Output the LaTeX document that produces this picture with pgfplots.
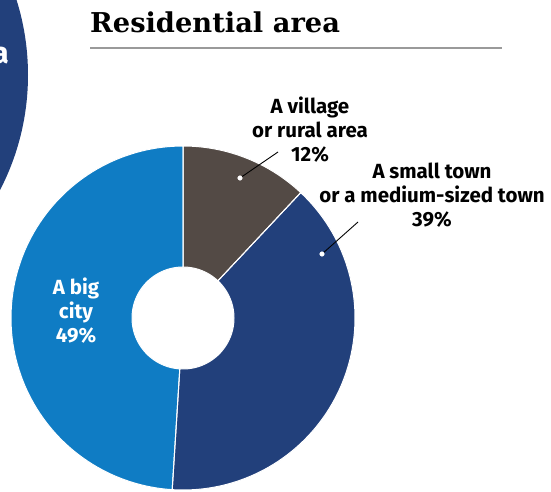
\documentclass[border=0pt]{standalone}
\usepackage{pgfplots}
\usepackage{pgfplotstable}
\pgfplotsset{compat=1.18}
\usepackage{fontspec}
\setmainfont{Fira Sans}
\newfontfamily\titlefont{DejaVu Serif}
\definecolor{cVillage}{HTML}{534A45}
\definecolor{cTown}{HTML}{22407B}
\definecolor{cCity}{HTML}{0F7CC4}
\definecolor{cRule}{HTML}{9A9A9A}
\tikzset{lbl/.style={font=\bfseries\fontsize{20.5}{24}\selectfont, align=center, inner sep=0pt}}

\pgfplotstableread{
label value
village 12
town 39
city 49
}\piedata

% sector: style, start angle, end angle, path end
\newcommand{\sector}[4]{%
  \addplot[#1, domain=0:2, samples=201, variable=\t]
  ({183+(51+121*(\t<1.005))*cos((\t<1.005)*((#2)+((#3)-(#2))*min(\t,1)) + (\t>=1.005)*((#3)+((#2)-(#3))*(\t-1.01)/0.99))},
   {173+(51+121*(\t<1.005))*sin((\t<1.005)*((#2)+((#3)-(#2))*min(\t,1)) + (\t>=1.005)*((#3)+((#2)-(#3))*(\t-1.01)/0.99))}) #4;
}

\begin{document}
\begin{tikzpicture}
\useasboundingbox (0,0) rectangle (551pt,491pt);
\pgfplotstablegetelem{0}{value}\of\piedata \let\vA\pgfplotsretval
\pgfplotstablegetelem{1}{value}\of\piedata \let\vB\pgfplotsretval
\pgfplotstablegetelem{2}{value}\of\piedata \let\vC\pgfplotsretval
\pgfmathsetmacro\aA{90}
\pgfmathsetmacro\aB{90-3.6*\vA}
\pgfmathsetmacro\aC{\aB-3.6*\vB}
\pgfmathsetmacro\aD{\aC-3.6*\vC}
\begin{axis}[
  at={(0,0)}, anchor=south west,
  x=1pt, y=1pt, xmin=0, xmax=551, ymin=0, ymax=491,
  hide axis, clip=true,
]
% decorative left circle
\fill[cTown] (axis cs:-222,416) circle[radius=250pt];
\node[white, anchor=base east, inner sep=0pt, font=\bfseries\fontsize{30}{34}\selectfont] at (axis cs:9,427) {area};
% sectors
\sector{fill=cVillage, draw=none}{\aA}{\aB}{}
\sector{fill=cTown, draw=none}{\aB}{\aC}{}
\sector{fill=cCity, draw=none}{\aC}{\aD}{}
\sector{draw=white, line width=1pt}{\aA}{\aB}{--cycle}
\sector{draw=white, line width=1pt}{\aB}{\aC}{--cycle}
\sector{draw=white, line width=1pt}{\aC}{\aD}{--cycle}
% leader lines
\addplot[black, line width=0.9pt] coordinates {(240,313) (278,339)};
\addplot[black, line width=0.9pt] coordinates {(322,237) (358,269)};
\addplot[only marks, mark=*, mark size=2.3pt, mark options={fill=white, draw=white}] coordinates {(240,313) (322,237)};
% labels
\node[lbl] at (axis cs:310,361) {A village\\or rural area\\12\%};
\node[lbl] at (axis cs:432,296) {A small town\\or a medium-sized town\\39\%};
\node[lbl, white] at (axis cs:76,180) {A big\\city\\49\%};
% title
\node[anchor=base west, inner sep=0pt, font=\titlefont\bfseries\fontsize{27.3}{30}\selectfont] at (axis cs:90,458) {Residential area};
\draw[cRule, line width=1.5pt] (axis cs:90,443) -- (axis cs:502,443);
\end{axis}
\end{tikzpicture}
\end{document}
